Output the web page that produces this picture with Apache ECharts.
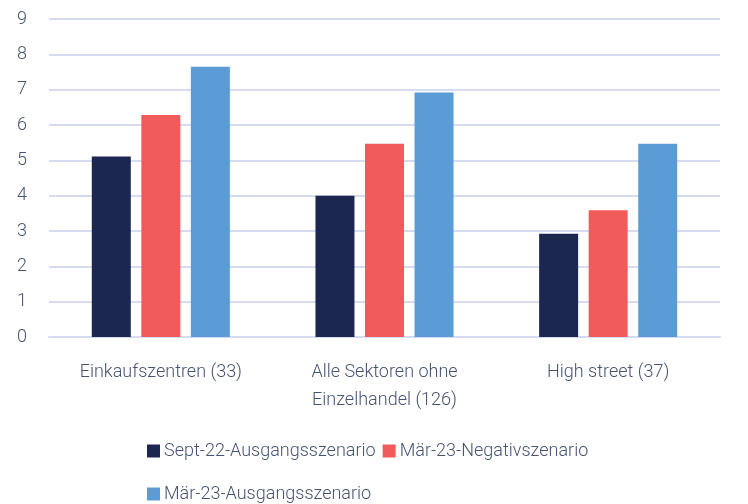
<!DOCTYPE html>
<html>
<head>
<meta charset="utf-8">
<script src="https://cdn.jsdelivr.net/npm/echarts@6/dist/echarts.min.js"></script>
<style>
  html, body { margin: 0; padding: 0; background: #ffffff; }
  #chart { width: 748px; height: 504px; }
</style>
</head>
<body>
<div id="chart"></div>
<script>
// Categories (number of sectors in brackets)
const categories = ['Einkaufszentren (33)', 'Alle Sektoren ohne\nEinzelhandel (126)', 'High street (37)'];
const seriesNames = ['Sept-22-Ausgangsszenario', 'Mär-23-Negativszenario', 'Mär-23-Ausgangsszenario'];
const sept22Base = [5.11, 4.0, 2.92];
const mar23Negative = [6.28, 5.47, 3.59];
const mar23Base = [7.65, 6.92, 5.47];
const yTicks = [0, 1, 2, 3, 4, 5, 6, 7, 8, 9];

const textColor = '#475374';
const gridColor = '#d5dbf0';
const font = 'Roboto';
const colors = ['#1c2750', '#f15b5b', '#5b9bd6'];

const chart = echarts.init(document.getElementById('chart'), null, { renderer: 'canvas' });

const values = [sept22Base, mar23Negative, mar23Base];

const legendText = { color: textColor, fontFamily: font, fontWeight: 300, fontSize: 18, padding: [0, 0, 0, -1] };

chart.setOption({
  animation: false,
  grid: { left: 49, right: 28, top: 19, bottom: 167, containLabel: false },
  legend: [
    {
      data: [seriesNames[0], seriesNames[1]],
      left: 142, top: 437,
      itemWidth: 13, itemHeight: 13, itemGap: 7,
      icon: 'rect',
      textStyle: legendText
    },
    {
      data: [seriesNames[2]],
      left: 142, top: 480,
      itemWidth: 13, itemHeight: 13,
      icon: 'rect',
      textStyle: legendText
    }
  ],
  xAxis: {
    type: 'category',
    data: categories,
    axisTick: { show: false },
    axisLine: { show: true, lineStyle: { color: gridColor, width: 2 } },
    axisLabel: {
      color: textColor, fontFamily: font, fontWeight: 300, fontSize: 18,
      lineHeight: 28, margin: 21, interval: 0
    }
  },
  yAxis: {
    type: 'value',
    min: yTicks[0],
    max: yTicks[yTicks.length - 1],
    interval: 1,
    axisLine: { show: false },
    axisTick: { show: false },
    splitLine: { lineStyle: { color: gridColor, width: 2 } },
    axisLabel: { color: textColor, fontFamily: font, fontWeight: 300, fontSize: 18, margin: 22 }
  },
  series: seriesNames.map((name, i) => ({
    name: name,
    type: 'bar',
    data: values[i],
    barWidth: 39,
    barGap: '27%',
    itemStyle: { color: colors[i] }
  }))
});
</script>
</body>
</html>
